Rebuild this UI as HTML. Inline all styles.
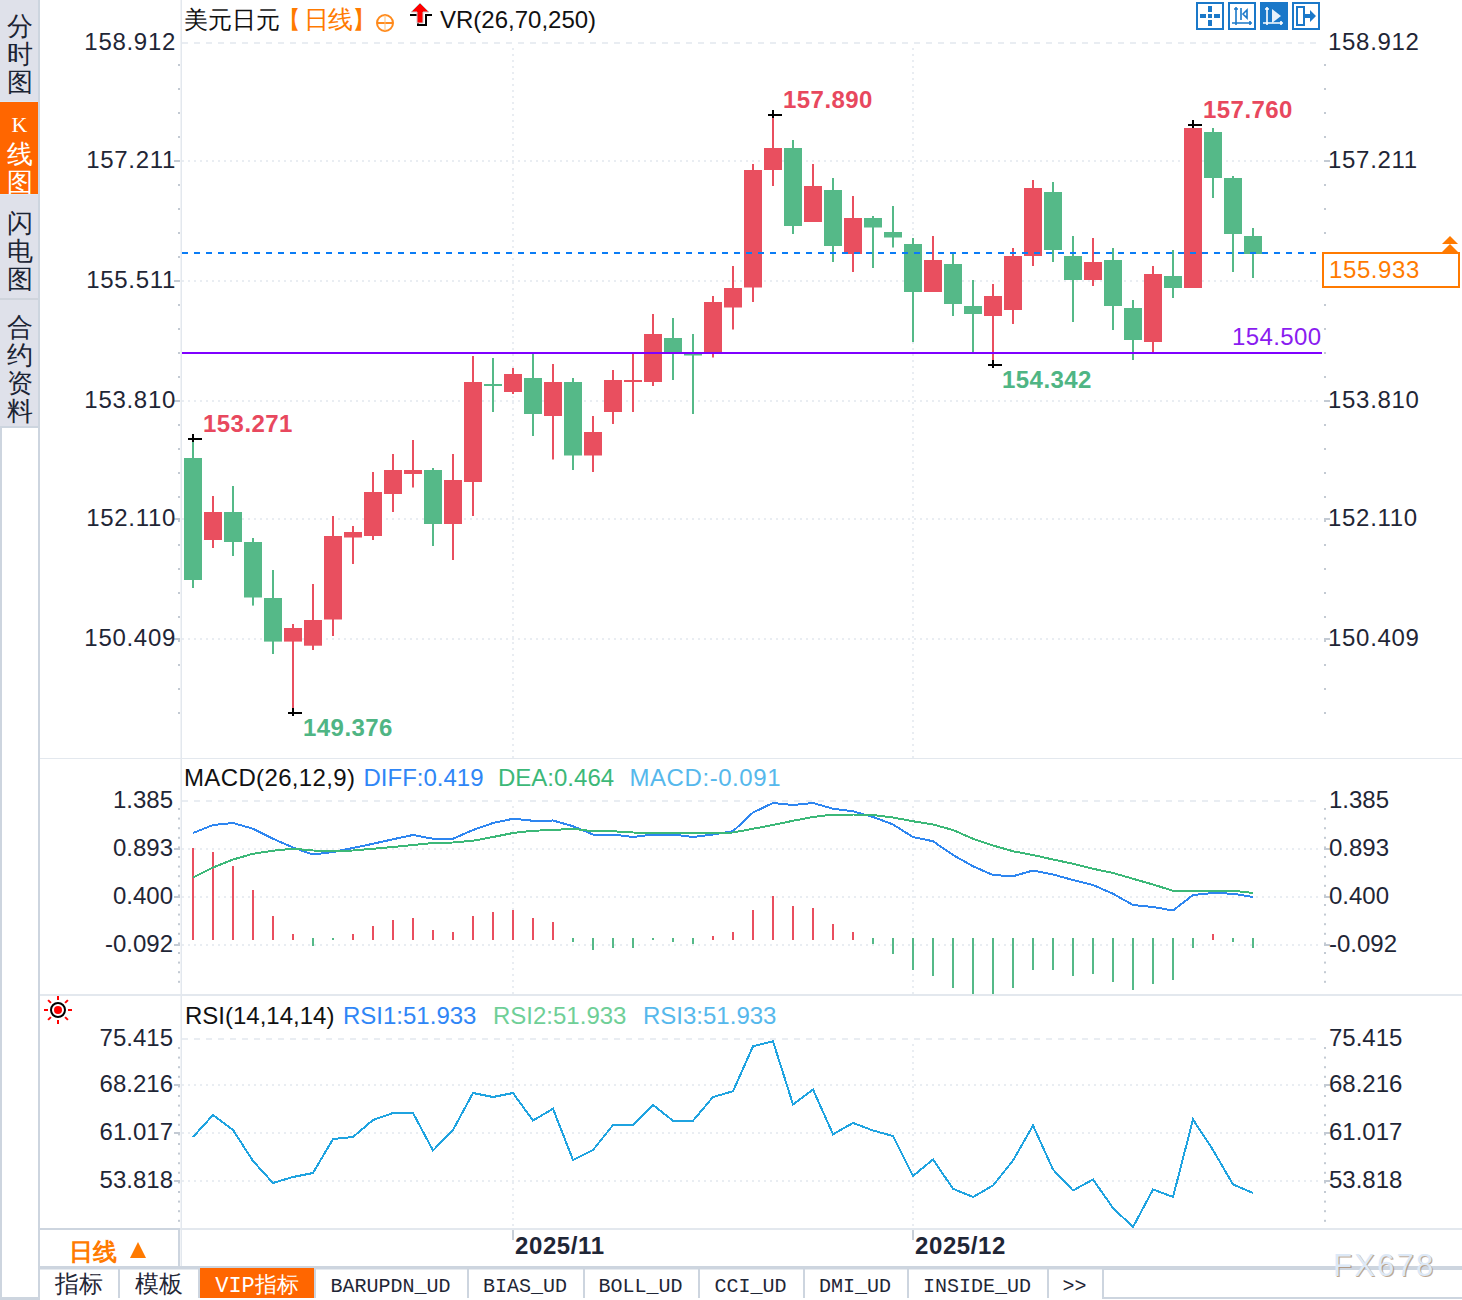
<!DOCTYPE html>
<html><head><meta charset="utf-8"><title>USDJPY</title>
<style>
html,body{margin:0;padding:0;background:#fff;width:1462px;height:1300px;overflow:hidden}
svg{display:block}
svg text{font-family:"Liberation Sans",sans-serif}
</style></head><body>
<svg width="1462" height="1300" viewBox="0 0 1462 1300">
<rect x="0" y="0" width="40" height="426" fill="#dfe1ea"/>
<rect x="0" y="102" width="38" height="92" fill="#ff6600"/>
<rect x="0" y="101" width="39" height="1" fill="#dde8f3"/>
<rect x="38" y="102" width="1" height="92" fill="#dde8f3"/>
<rect x="0" y="194" width="39" height="1" fill="#dde8f3"/>
<rect x="0" y="298" width="40" height="2" fill="#cfd4dc"/>
<rect x="0" y="426" width="40" height="874" fill="#cdd5df"/>
<rect x="2" y="428" width="36" height="869" fill="#ffffff"/>
<text x="19.5" y="35" font-size="26" fill="#1b2434" text-anchor="middle" font-weight="normal" style="font-family:'Liberation Sans',sans-serif">分</text>
<text x="19.5" y="63" font-size="26" fill="#1b2434" text-anchor="middle" font-weight="normal" style="font-family:'Liberation Sans',sans-serif">时</text>
<text x="19.5" y="91" font-size="26" fill="#1b2434" text-anchor="middle" font-weight="normal" style="font-family:'Liberation Sans',sans-serif">图</text>
<text x="19.5" y="163" font-size="26" fill="#ffffff" text-anchor="middle" font-weight="normal" style="font-family:'Liberation Sans',sans-serif">线</text>
<text x="19.5" y="191" font-size="26" fill="#ffffff" text-anchor="middle" font-weight="normal" style="font-family:'Liberation Sans',sans-serif">图</text>
<text x="19.5" y="132" font-size="22" fill="#ffffff" text-anchor="middle" style="font-family:'Liberation Serif',serif">K</text>
<text x="19.5" y="232" font-size="26" fill="#1b2434" text-anchor="middle" font-weight="normal" style="font-family:'Liberation Sans',sans-serif">闪</text>
<text x="19.5" y="260" font-size="26" fill="#1b2434" text-anchor="middle" font-weight="normal" style="font-family:'Liberation Sans',sans-serif">电</text>
<text x="19.5" y="288" font-size="26" fill="#1b2434" text-anchor="middle" font-weight="normal" style="font-family:'Liberation Sans',sans-serif">图</text>
<text x="19.5" y="336" font-size="26" fill="#1b2434" text-anchor="middle" font-weight="normal" style="font-family:'Liberation Sans',sans-serif">合</text>
<text x="19.5" y="364" font-size="26" fill="#1b2434" text-anchor="middle" font-weight="normal" style="font-family:'Liberation Sans',sans-serif">约</text>
<text x="19.5" y="392" font-size="26" fill="#1b2434" text-anchor="middle" font-weight="normal" style="font-family:'Liberation Sans',sans-serif">资</text>
<text x="19.5" y="420" font-size="26" fill="#1b2434" text-anchor="middle" font-weight="normal" style="font-family:'Liberation Sans',sans-serif">料</text>
<rect x="38" y="0" width="2" height="1300" fill="#cdd5df"/>
<rect x="40" y="758" width="1422" height="1" fill="#e3e8ee"/>
<rect x="40" y="994" width="1422" height="2" fill="#e3e8ee"/>
<rect x="180" y="1228" width="1282" height="2" fill="#e3e8ee"/>
<rect x="40" y="1228" width="140" height="2" fill="#cdd5df"/>
<rect x="180.5" y="0" width="1.5" height="1268" fill="#e3e8ee"/>
<line x1="182" y1="43" x2="1322" y2="43" stroke="#e9edf2" stroke-width="2" stroke-dasharray="6 6"/>
<line x1="182" y1="161" x2="1322" y2="161" stroke="#e9edf2" stroke-width="2" stroke-dasharray="2 4"/>
<line x1="182" y1="281" x2="1322" y2="281" stroke="#e9edf2" stroke-width="2" stroke-dasharray="2 4"/>
<line x1="182" y1="401" x2="1322" y2="401" stroke="#e9edf2" stroke-width="2" stroke-dasharray="2 4"/>
<line x1="182" y1="519" x2="1322" y2="519" stroke="#e9edf2" stroke-width="2" stroke-dasharray="2 4"/>
<line x1="182" y1="639" x2="1322" y2="639" stroke="#e9edf2" stroke-width="2" stroke-dasharray="2 4"/>
<line x1="513" y1="48" x2="513" y2="758" stroke="#e9edf2" stroke-width="2" stroke-dasharray="2 4"/>
<line x1="913" y1="48" x2="913" y2="758" stroke="#e9edf2" stroke-width="2" stroke-dasharray="2 4"/>
<rect x="178" y="64.0" width="2" height="2" fill="#c3cad3"/>
<rect x="1324" y="64.0" width="2" height="2" fill="#c3cad3"/>
<rect x="178" y="88.0" width="2" height="2" fill="#c3cad3"/>
<rect x="1324" y="88.0" width="2" height="2" fill="#c3cad3"/>
<rect x="178" y="112.0" width="2" height="2" fill="#c3cad3"/>
<rect x="1324" y="112.0" width="2" height="2" fill="#c3cad3"/>
<rect x="178" y="136.0" width="2" height="2" fill="#c3cad3"/>
<rect x="1324" y="136.0" width="2" height="2" fill="#c3cad3"/>
<rect x="178" y="160.0" width="2" height="2" fill="#c3cad3"/>
<rect x="1324" y="160.0" width="2" height="2" fill="#c3cad3"/>
<rect x="178" y="184.0" width="2" height="2" fill="#c3cad3"/>
<rect x="1324" y="184.0" width="2" height="2" fill="#c3cad3"/>
<rect x="178" y="208.0" width="2" height="2" fill="#c3cad3"/>
<rect x="1324" y="208.0" width="2" height="2" fill="#c3cad3"/>
<rect x="178" y="232.0" width="2" height="2" fill="#c3cad3"/>
<rect x="1324" y="232.0" width="2" height="2" fill="#c3cad3"/>
<rect x="178" y="256.0" width="2" height="2" fill="#c3cad3"/>
<rect x="1324" y="256.0" width="2" height="2" fill="#c3cad3"/>
<rect x="178" y="280.0" width="2" height="2" fill="#c3cad3"/>
<rect x="1324" y="280.0" width="2" height="2" fill="#c3cad3"/>
<rect x="178" y="304.0" width="2" height="2" fill="#c3cad3"/>
<rect x="1324" y="304.0" width="2" height="2" fill="#c3cad3"/>
<rect x="178" y="328.0" width="2" height="2" fill="#c3cad3"/>
<rect x="1324" y="328.0" width="2" height="2" fill="#c3cad3"/>
<rect x="178" y="352.0" width="2" height="2" fill="#c3cad3"/>
<rect x="1324" y="352.0" width="2" height="2" fill="#c3cad3"/>
<rect x="178" y="376.0" width="2" height="2" fill="#c3cad3"/>
<rect x="1324" y="376.0" width="2" height="2" fill="#c3cad3"/>
<rect x="178" y="400.0" width="2" height="2" fill="#c3cad3"/>
<rect x="1324" y="400.0" width="2" height="2" fill="#c3cad3"/>
<rect x="178" y="424.0" width="2" height="2" fill="#c3cad3"/>
<rect x="1324" y="424.0" width="2" height="2" fill="#c3cad3"/>
<rect x="178" y="448.0" width="2" height="2" fill="#c3cad3"/>
<rect x="1324" y="448.0" width="2" height="2" fill="#c3cad3"/>
<rect x="178" y="472.0" width="2" height="2" fill="#c3cad3"/>
<rect x="1324" y="472.0" width="2" height="2" fill="#c3cad3"/>
<rect x="178" y="496.0" width="2" height="2" fill="#c3cad3"/>
<rect x="1324" y="496.0" width="2" height="2" fill="#c3cad3"/>
<rect x="178" y="520.0" width="2" height="2" fill="#c3cad3"/>
<rect x="1324" y="520.0" width="2" height="2" fill="#c3cad3"/>
<rect x="178" y="544.0" width="2" height="2" fill="#c3cad3"/>
<rect x="1324" y="544.0" width="2" height="2" fill="#c3cad3"/>
<rect x="178" y="568.0" width="2" height="2" fill="#c3cad3"/>
<rect x="1324" y="568.0" width="2" height="2" fill="#c3cad3"/>
<rect x="178" y="592.0" width="2" height="2" fill="#c3cad3"/>
<rect x="1324" y="592.0" width="2" height="2" fill="#c3cad3"/>
<rect x="178" y="616.0" width="2" height="2" fill="#c3cad3"/>
<rect x="1324" y="616.0" width="2" height="2" fill="#c3cad3"/>
<rect x="178" y="640.0" width="2" height="2" fill="#c3cad3"/>
<rect x="1324" y="640.0" width="2" height="2" fill="#c3cad3"/>
<rect x="178" y="664.0" width="2" height="2" fill="#c3cad3"/>
<rect x="1324" y="664.0" width="2" height="2" fill="#c3cad3"/>
<rect x="178" y="688.0" width="2" height="2" fill="#c3cad3"/>
<rect x="1324" y="688.0" width="2" height="2" fill="#c3cad3"/>
<rect x="178" y="712.0" width="2" height="2" fill="#c3cad3"/>
<rect x="1324" y="712.0" width="2" height="2" fill="#c3cad3"/>
<rect x="174" y="160.0" width="6" height="2" fill="#c3cad3"/>
<rect x="1324" y="160.0" width="6" height="2" fill="#c3cad3"/>
<rect x="174" y="280.0" width="6" height="2" fill="#c3cad3"/>
<rect x="1324" y="280.0" width="6" height="2" fill="#c3cad3"/>
<rect x="174" y="400.0" width="6" height="2" fill="#c3cad3"/>
<rect x="1324" y="400.0" width="6" height="2" fill="#c3cad3"/>
<rect x="174" y="518.0" width="6" height="2" fill="#c3cad3"/>
<rect x="1324" y="518.0" width="6" height="2" fill="#c3cad3"/>
<rect x="174" y="638.0" width="6" height="2" fill="#c3cad3"/>
<rect x="1324" y="638.0" width="6" height="2" fill="#c3cad3"/>
<text x="176" y="50" font-size="24" fill="#1f2636" text-anchor="end" letter-spacing="0.7">158.912</text>
<text x="1328" y="50" font-size="24" fill="#1f2636" letter-spacing="0.7">158.912</text>
<text x="176" y="168" font-size="24" fill="#1f2636" text-anchor="end" letter-spacing="0.7">157.211</text>
<text x="1328" y="168" font-size="24" fill="#1f2636" letter-spacing="0.7">157.211</text>
<text x="176" y="288" font-size="24" fill="#1f2636" text-anchor="end" letter-spacing="0.7">155.511</text>
<text x="1328" y="288" font-size="24" fill="#1f2636" letter-spacing="0.7">155.511</text>
<text x="176" y="408" font-size="24" fill="#1f2636" text-anchor="end" letter-spacing="0.7">153.810</text>
<text x="1328" y="408" font-size="24" fill="#1f2636" letter-spacing="0.7">153.810</text>
<text x="176" y="526" font-size="24" fill="#1f2636" text-anchor="end" letter-spacing="0.7">152.110</text>
<text x="1328" y="526" font-size="24" fill="#1f2636" letter-spacing="0.7">152.110</text>
<text x="176" y="646" font-size="24" fill="#1f2636" text-anchor="end" letter-spacing="0.7">150.409</text>
<text x="1328" y="646" font-size="24" fill="#1f2636" letter-spacing="0.7">150.409</text>
<line x1="182" y1="801" x2="1322" y2="801" stroke="#e9edf2" stroke-width="2" stroke-dasharray="6 6"/>
<line x1="182" y1="849" x2="1322" y2="849" stroke="#e9edf2" stroke-width="2" stroke-dasharray="2 4"/>
<line x1="182" y1="897" x2="1322" y2="897" stroke="#e9edf2" stroke-width="2" stroke-dasharray="2 4"/>
<line x1="182" y1="945" x2="1322" y2="945" stroke="#e9edf2" stroke-width="2" stroke-dasharray="2 4"/>
<line x1="513" y1="806" x2="513" y2="994" stroke="#e9edf2" stroke-width="2" stroke-dasharray="2 4"/>
<line x1="913" y1="806" x2="913" y2="994" stroke="#e9edf2" stroke-width="2" stroke-dasharray="2 4"/>
<rect x="178" y="808.0" width="2" height="2" fill="#c3cad3"/>
<rect x="1324" y="808.0" width="2" height="2" fill="#c3cad3"/>
<rect x="178" y="817.6" width="2" height="2" fill="#c3cad3"/>
<rect x="1324" y="817.6" width="2" height="2" fill="#c3cad3"/>
<rect x="178" y="827.2" width="2" height="2" fill="#c3cad3"/>
<rect x="1324" y="827.2" width="2" height="2" fill="#c3cad3"/>
<rect x="178" y="836.8" width="2" height="2" fill="#c3cad3"/>
<rect x="1324" y="836.8" width="2" height="2" fill="#c3cad3"/>
<rect x="178" y="846.4" width="2" height="2" fill="#c3cad3"/>
<rect x="1324" y="846.4" width="2" height="2" fill="#c3cad3"/>
<rect x="178" y="856.0" width="2" height="2" fill="#c3cad3"/>
<rect x="1324" y="856.0" width="2" height="2" fill="#c3cad3"/>
<rect x="178" y="865.6" width="2" height="2" fill="#c3cad3"/>
<rect x="1324" y="865.6" width="2" height="2" fill="#c3cad3"/>
<rect x="178" y="875.2" width="2" height="2" fill="#c3cad3"/>
<rect x="1324" y="875.2" width="2" height="2" fill="#c3cad3"/>
<rect x="178" y="884.8" width="2" height="2" fill="#c3cad3"/>
<rect x="1324" y="884.8" width="2" height="2" fill="#c3cad3"/>
<rect x="178" y="894.4" width="2" height="2" fill="#c3cad3"/>
<rect x="1324" y="894.4" width="2" height="2" fill="#c3cad3"/>
<rect x="178" y="904.0" width="2" height="2" fill="#c3cad3"/>
<rect x="1324" y="904.0" width="2" height="2" fill="#c3cad3"/>
<rect x="178" y="913.6" width="2" height="2" fill="#c3cad3"/>
<rect x="1324" y="913.6" width="2" height="2" fill="#c3cad3"/>
<rect x="178" y="923.2" width="2" height="2" fill="#c3cad3"/>
<rect x="1324" y="923.2" width="2" height="2" fill="#c3cad3"/>
<rect x="178" y="932.8" width="2" height="2" fill="#c3cad3"/>
<rect x="1324" y="932.8" width="2" height="2" fill="#c3cad3"/>
<rect x="178" y="942.4" width="2" height="2" fill="#c3cad3"/>
<rect x="1324" y="942.4" width="2" height="2" fill="#c3cad3"/>
<rect x="178" y="952.0" width="2" height="2" fill="#c3cad3"/>
<rect x="1324" y="952.0" width="2" height="2" fill="#c3cad3"/>
<rect x="178" y="961.6" width="2" height="2" fill="#c3cad3"/>
<rect x="1324" y="961.6" width="2" height="2" fill="#c3cad3"/>
<rect x="178" y="971.2" width="2" height="2" fill="#c3cad3"/>
<rect x="1324" y="971.2" width="2" height="2" fill="#c3cad3"/>
<rect x="178" y="980.8" width="2" height="2" fill="#c3cad3"/>
<rect x="1324" y="980.8" width="2" height="2" fill="#c3cad3"/>
<rect x="174" y="848.0" width="6" height="2" fill="#c3cad3"/>
<rect x="1324" y="848.0" width="6" height="2" fill="#c3cad3"/>
<rect x="174" y="896.0" width="6" height="2" fill="#c3cad3"/>
<rect x="1324" y="896.0" width="6" height="2" fill="#c3cad3"/>
<rect x="174" y="944.0" width="6" height="2" fill="#c3cad3"/>
<rect x="1324" y="944.0" width="6" height="2" fill="#c3cad3"/>
<text x="173" y="808" font-size="24" fill="#1f2636" text-anchor="end">1.385</text>
<text x="1329" y="808" font-size="24" fill="#1f2636">1.385</text>
<text x="173" y="856" font-size="24" fill="#1f2636" text-anchor="end">0.893</text>
<text x="1329" y="856" font-size="24" fill="#1f2636">0.893</text>
<text x="173" y="904" font-size="24" fill="#1f2636" text-anchor="end">0.400</text>
<text x="1329" y="904" font-size="24" fill="#1f2636">0.400</text>
<text x="173" y="952" font-size="24" fill="#1f2636" text-anchor="end">-0.092</text>
<text x="1329" y="952" font-size="24" fill="#1f2636">-0.092</text>
<line x1="182" y1="1039" x2="1322" y2="1039" stroke="#e9edf2" stroke-width="2" stroke-dasharray="6 6"/>
<line x1="182" y1="1085" x2="1322" y2="1085" stroke="#e9edf2" stroke-width="2" stroke-dasharray="2 4"/>
<line x1="182" y1="1133" x2="1322" y2="1133" stroke="#e9edf2" stroke-width="2" stroke-dasharray="2 4"/>
<line x1="182" y1="1181" x2="1322" y2="1181" stroke="#e9edf2" stroke-width="2" stroke-dasharray="2 4"/>
<line x1="513" y1="1044" x2="513" y2="1228" stroke="#e9edf2" stroke-width="2" stroke-dasharray="2 4"/>
<line x1="913" y1="1044" x2="913" y2="1228" stroke="#e9edf2" stroke-width="2" stroke-dasharray="2 4"/>
<rect x="178" y="1047.0" width="2" height="2" fill="#c3cad3"/>
<rect x="1324" y="1047.0" width="2" height="2" fill="#c3cad3"/>
<rect x="178" y="1056.6" width="2" height="2" fill="#c3cad3"/>
<rect x="1324" y="1056.6" width="2" height="2" fill="#c3cad3"/>
<rect x="178" y="1066.2" width="2" height="2" fill="#c3cad3"/>
<rect x="1324" y="1066.2" width="2" height="2" fill="#c3cad3"/>
<rect x="178" y="1075.8" width="2" height="2" fill="#c3cad3"/>
<rect x="1324" y="1075.8" width="2" height="2" fill="#c3cad3"/>
<rect x="178" y="1085.4" width="2" height="2" fill="#c3cad3"/>
<rect x="1324" y="1085.4" width="2" height="2" fill="#c3cad3"/>
<rect x="178" y="1095.0" width="2" height="2" fill="#c3cad3"/>
<rect x="1324" y="1095.0" width="2" height="2" fill="#c3cad3"/>
<rect x="178" y="1104.6" width="2" height="2" fill="#c3cad3"/>
<rect x="1324" y="1104.6" width="2" height="2" fill="#c3cad3"/>
<rect x="178" y="1114.2" width="2" height="2" fill="#c3cad3"/>
<rect x="1324" y="1114.2" width="2" height="2" fill="#c3cad3"/>
<rect x="178" y="1123.8" width="2" height="2" fill="#c3cad3"/>
<rect x="1324" y="1123.8" width="2" height="2" fill="#c3cad3"/>
<rect x="178" y="1133.4" width="2" height="2" fill="#c3cad3"/>
<rect x="1324" y="1133.4" width="2" height="2" fill="#c3cad3"/>
<rect x="178" y="1143.0" width="2" height="2" fill="#c3cad3"/>
<rect x="1324" y="1143.0" width="2" height="2" fill="#c3cad3"/>
<rect x="178" y="1152.6" width="2" height="2" fill="#c3cad3"/>
<rect x="1324" y="1152.6" width="2" height="2" fill="#c3cad3"/>
<rect x="178" y="1162.2" width="2" height="2" fill="#c3cad3"/>
<rect x="1324" y="1162.2" width="2" height="2" fill="#c3cad3"/>
<rect x="178" y="1171.8" width="2" height="2" fill="#c3cad3"/>
<rect x="1324" y="1171.8" width="2" height="2" fill="#c3cad3"/>
<rect x="178" y="1181.4" width="2" height="2" fill="#c3cad3"/>
<rect x="1324" y="1181.4" width="2" height="2" fill="#c3cad3"/>
<rect x="178" y="1191.0" width="2" height="2" fill="#c3cad3"/>
<rect x="1324" y="1191.0" width="2" height="2" fill="#c3cad3"/>
<rect x="178" y="1200.6" width="2" height="2" fill="#c3cad3"/>
<rect x="1324" y="1200.6" width="2" height="2" fill="#c3cad3"/>
<rect x="178" y="1210.2" width="2" height="2" fill="#c3cad3"/>
<rect x="1324" y="1210.2" width="2" height="2" fill="#c3cad3"/>
<rect x="178" y="1219.8" width="2" height="2" fill="#c3cad3"/>
<rect x="1324" y="1219.8" width="2" height="2" fill="#c3cad3"/>
<rect x="174" y="1084.0" width="6" height="2" fill="#c3cad3"/>
<rect x="1324" y="1084.0" width="6" height="2" fill="#c3cad3"/>
<rect x="174" y="1132.0" width="6" height="2" fill="#c3cad3"/>
<rect x="1324" y="1132.0" width="6" height="2" fill="#c3cad3"/>
<rect x="174" y="1180.0" width="6" height="2" fill="#c3cad3"/>
<rect x="1324" y="1180.0" width="6" height="2" fill="#c3cad3"/>
<text x="173" y="1046" font-size="24" fill="#1f2636" text-anchor="end">75.415</text>
<text x="1329" y="1046" font-size="24" fill="#1f2636">75.415</text>
<text x="173" y="1092" font-size="24" fill="#1f2636" text-anchor="end">68.216</text>
<text x="1329" y="1092" font-size="24" fill="#1f2636">68.216</text>
<text x="173" y="1140" font-size="24" fill="#1f2636" text-anchor="end">61.017</text>
<text x="1329" y="1140" font-size="24" fill="#1f2636">61.017</text>
<text x="173" y="1188" font-size="24" fill="#1f2636" text-anchor="end">53.818</text>
<text x="1329" y="1188" font-size="24" fill="#1f2636">53.818</text>
<rect x="192" y="439" width="2" height="149" fill="#55b988"/>
<rect x="184" y="458" width="18" height="122" fill="#55b988"/>
<rect x="212" y="496" width="2" height="52" fill="#e94f5f"/>
<rect x="204" y="512" width="18" height="28" fill="#e94f5f"/>
<rect x="232" y="486" width="2" height="70" fill="#55b988"/>
<rect x="224" y="512" width="18" height="30" fill="#55b988"/>
<rect x="252" y="538" width="2" height="67.60000000000002" fill="#55b988"/>
<rect x="244" y="542" width="18" height="55.5" fill="#55b988"/>
<rect x="272" y="570" width="2" height="84" fill="#55b988"/>
<rect x="264" y="598" width="18" height="43.60000000000002" fill="#55b988"/>
<rect x="292" y="624" width="2" height="88.70000000000005" fill="#e94f5f"/>
<rect x="284" y="628" width="18" height="13.600000000000023" fill="#e94f5f"/>
<rect x="312" y="584" width="2" height="66" fill="#e94f5f"/>
<rect x="304" y="620" width="18" height="25.700000000000045" fill="#e94f5f"/>
<rect x="332" y="516" width="2" height="120" fill="#e94f5f"/>
<rect x="324" y="536" width="18" height="83.5" fill="#e94f5f"/>
<rect x="352" y="526" width="2" height="38" fill="#e94f5f"/>
<rect x="344" y="532" width="18" height="5.5" fill="#e94f5f"/>
<rect x="372" y="472" width="2" height="68" fill="#e94f5f"/>
<rect x="364" y="492" width="18" height="44" fill="#e94f5f"/>
<rect x="392" y="454" width="2" height="58" fill="#e94f5f"/>
<rect x="384" y="470" width="18" height="24" fill="#e94f5f"/>
<rect x="412" y="440" width="2" height="47.5" fill="#e94f5f"/>
<rect x="404" y="470" width="18" height="4" fill="#e94f5f"/>
<rect x="432" y="468" width="2" height="78" fill="#55b988"/>
<rect x="424" y="470" width="18" height="54" fill="#55b988"/>
<rect x="452" y="454" width="2" height="106" fill="#e94f5f"/>
<rect x="444" y="480" width="18" height="44" fill="#e94f5f"/>
<rect x="472" y="356" width="2" height="160" fill="#e94f5f"/>
<rect x="464" y="382" width="18" height="100" fill="#e94f5f"/>
<rect x="492" y="358" width="2" height="54" fill="#55b988"/>
<rect x="484" y="384" width="18" height="2" fill="#55b988"/>
<rect x="512" y="368" width="2" height="26" fill="#e94f5f"/>
<rect x="504" y="374" width="18" height="18" fill="#e94f5f"/>
<rect x="532" y="354" width="2" height="82" fill="#55b988"/>
<rect x="524" y="378" width="18" height="36" fill="#55b988"/>
<rect x="552" y="364" width="2" height="95.5" fill="#e94f5f"/>
<rect x="544" y="382" width="18" height="34" fill="#e94f5f"/>
<rect x="572" y="378" width="2" height="92" fill="#55b988"/>
<rect x="564" y="382" width="18" height="73.5" fill="#55b988"/>
<rect x="592" y="416" width="2" height="56" fill="#e94f5f"/>
<rect x="584" y="432" width="18" height="23.5" fill="#e94f5f"/>
<rect x="612" y="370" width="2" height="54" fill="#e94f5f"/>
<rect x="604" y="380" width="18" height="32" fill="#e94f5f"/>
<rect x="632" y="354" width="2" height="58" fill="#e94f5f"/>
<rect x="624" y="380" width="18" height="2" fill="#e94f5f"/>
<rect x="652" y="314" width="2" height="72" fill="#e94f5f"/>
<rect x="644" y="334" width="18" height="48" fill="#e94f5f"/>
<rect x="672" y="318" width="2" height="62" fill="#55b988"/>
<rect x="664" y="338" width="18" height="14" fill="#55b988"/>
<rect x="692" y="334" width="2" height="80" fill="#55b988"/>
<rect x="684" y="353" width="18" height="2.5" fill="#55b988"/>
<rect x="712" y="296" width="2" height="61.5" fill="#e94f5f"/>
<rect x="704" y="302" width="18" height="50.5" fill="#e94f5f"/>
<rect x="732" y="266" width="2" height="63.5" fill="#e94f5f"/>
<rect x="724" y="288" width="18" height="19.5" fill="#e94f5f"/>
<rect x="752" y="164" width="2" height="138" fill="#e94f5f"/>
<rect x="744" y="170" width="18" height="117.5" fill="#e94f5f"/>
<rect x="772" y="115" width="2" height="71" fill="#e94f5f"/>
<rect x="764" y="148" width="18" height="22" fill="#e94f5f"/>
<rect x="792" y="140" width="2" height="94" fill="#55b988"/>
<rect x="784" y="148" width="18" height="78" fill="#55b988"/>
<rect x="812" y="164" width="2" height="58" fill="#e94f5f"/>
<rect x="804" y="186" width="18" height="36" fill="#e94f5f"/>
<rect x="832" y="178" width="2" height="84" fill="#55b988"/>
<rect x="824" y="190" width="18" height="56" fill="#55b988"/>
<rect x="852" y="196" width="2" height="76" fill="#e94f5f"/>
<rect x="844" y="218" width="18" height="36" fill="#e94f5f"/>
<rect x="872" y="216" width="2" height="52" fill="#55b988"/>
<rect x="864" y="218" width="18" height="9.5" fill="#55b988"/>
<rect x="892" y="206" width="2" height="41.5" fill="#55b988"/>
<rect x="884" y="232" width="18" height="5.5" fill="#55b988"/>
<rect x="912" y="238" width="2" height="104" fill="#55b988"/>
<rect x="904" y="244" width="18" height="48" fill="#55b988"/>
<rect x="932" y="236" width="2" height="56" fill="#e94f5f"/>
<rect x="924" y="260" width="18" height="32" fill="#e94f5f"/>
<rect x="952" y="254" width="2" height="62" fill="#55b988"/>
<rect x="944" y="264" width="18" height="40" fill="#55b988"/>
<rect x="972" y="280" width="2" height="72.5" fill="#55b988"/>
<rect x="964" y="306" width="18" height="8" fill="#55b988"/>
<rect x="992" y="284" width="2" height="81" fill="#e94f5f"/>
<rect x="984" y="296" width="18" height="20" fill="#e94f5f"/>
<rect x="1012" y="248" width="2" height="76" fill="#e94f5f"/>
<rect x="1004" y="256" width="18" height="54" fill="#e94f5f"/>
<rect x="1032" y="180" width="2" height="86" fill="#e94f5f"/>
<rect x="1024" y="188" width="18" height="68" fill="#e94f5f"/>
<rect x="1052" y="182" width="2" height="80" fill="#55b988"/>
<rect x="1044" y="192" width="18" height="58" fill="#55b988"/>
<rect x="1072" y="236" width="2" height="86" fill="#55b988"/>
<rect x="1064" y="256" width="18" height="24" fill="#55b988"/>
<rect x="1092" y="238" width="2" height="48" fill="#e94f5f"/>
<rect x="1084" y="262" width="18" height="18" fill="#e94f5f"/>
<rect x="1112" y="248" width="2" height="82" fill="#55b988"/>
<rect x="1104" y="260" width="18" height="46" fill="#55b988"/>
<rect x="1132" y="300" width="2" height="60" fill="#55b988"/>
<rect x="1124" y="308" width="18" height="32" fill="#55b988"/>
<rect x="1152" y="266" width="2" height="86" fill="#e94f5f"/>
<rect x="1144" y="274" width="18" height="68" fill="#e94f5f"/>
<rect x="1172" y="250" width="2" height="48" fill="#55b988"/>
<rect x="1164" y="276" width="18" height="12" fill="#55b988"/>
<rect x="1192" y="125" width="2" height="163" fill="#e94f5f"/>
<rect x="1184" y="128" width="18" height="160" fill="#e94f5f"/>
<rect x="1212" y="128" width="2" height="70" fill="#55b988"/>
<rect x="1204" y="132" width="18" height="46" fill="#55b988"/>
<rect x="1232" y="176" width="2" height="96" fill="#55b988"/>
<rect x="1224" y="178" width="18" height="56" fill="#55b988"/>
<rect x="1252" y="228" width="2" height="50" fill="#55b988"/>
<rect x="1244" y="236" width="18" height="18" fill="#55b988"/>
<rect x="182" y="352" width="1140" height="2" fill="#7f00ff"/>
<text x="1321.5" y="345" font-size="24" fill="#8a1cf0" text-anchor="end" letter-spacing="0.4">154.500</text>
<line x1="182" y1="253" x2="1318" y2="253" stroke="#0a7cf5" stroke-width="2" stroke-dasharray="6 6"/>
<rect x="188" y="438" width="14" height="2" fill="#000"/>
<rect x="192" y="434" width="2" height="8" fill="#000"/>
<rect x="768" y="114" width="14" height="2" fill="#000"/>
<rect x="772" y="110" width="2" height="8" fill="#000"/>
<rect x="1188" y="124" width="14" height="2" fill="#000"/>
<rect x="1192" y="120" width="2" height="8" fill="#000"/>
<rect x="288" y="712" width="14" height="2" fill="#000"/>
<rect x="292" y="708" width="2" height="8" fill="#000"/>
<rect x="988" y="364" width="14" height="2" fill="#000"/>
<rect x="992" y="360" width="2" height="8" fill="#000"/>
<text x="203" y="432" font-size="24" font-weight="bold" fill="#e8485e" letter-spacing="0.45">153.271</text>
<text x="783" y="107.5" font-size="24" font-weight="bold" fill="#e8485e" letter-spacing="0.45">157.890</text>
<text x="1203" y="118" font-size="24" font-weight="bold" fill="#e8485e" letter-spacing="0.45">157.760</text>
<text x="303" y="736" font-size="24" font-weight="bold" fill="#4fb584" letter-spacing="0.45">149.376</text>
<text x="1002" y="388" font-size="24" font-weight="bold" fill="#4fb584" letter-spacing="0.45">154.342</text>
<rect x="1323" y="253" width="136" height="34" fill="#fff" stroke="#ff7a00" stroke-width="2"/>
<text x="1329" y="278" font-size="24" fill="#ff7a00" letter-spacing="0.6">155.933</text>
<path d="M1450 236 L1458 244 L1442 244 Z M1450 244 L1458 252 L1442 252 Z" fill="#ff7a00"/>
<rect x="192" y="848" width="2" height="92" fill="#e94f5f"/>
<rect x="212" y="852" width="2" height="88" fill="#e94f5f"/>
<rect x="232" y="866" width="2" height="74" fill="#e94f5f"/>
<rect x="252" y="890" width="2" height="50" fill="#e94f5f"/>
<rect x="272" y="916" width="2" height="24" fill="#e94f5f"/>
<rect x="292" y="934" width="2" height="6" fill="#e94f5f"/>
<rect x="312" y="938" width="2" height="8" fill="#55b988"/>
<rect x="332" y="938" width="2" height="2" fill="#55b988"/>
<rect x="352" y="934" width="2" height="6" fill="#e94f5f"/>
<rect x="372" y="926" width="2" height="14" fill="#e94f5f"/>
<rect x="392" y="920" width="2" height="20" fill="#e94f5f"/>
<rect x="412" y="918" width="2" height="22" fill="#e94f5f"/>
<rect x="432" y="930" width="2" height="10" fill="#e94f5f"/>
<rect x="452" y="932" width="2" height="8" fill="#e94f5f"/>
<rect x="472" y="916" width="2" height="24" fill="#e94f5f"/>
<rect x="492" y="912" width="2" height="28" fill="#e94f5f"/>
<rect x="512" y="910" width="2" height="30" fill="#e94f5f"/>
<rect x="532" y="918" width="2" height="22" fill="#e94f5f"/>
<rect x="552" y="922" width="2" height="18" fill="#e94f5f"/>
<rect x="572" y="938" width="2" height="4" fill="#55b988"/>
<rect x="592" y="938" width="2" height="12" fill="#55b988"/>
<rect x="612" y="938" width="2" height="10" fill="#55b988"/>
<rect x="632" y="938" width="2" height="10" fill="#55b988"/>
<rect x="652" y="938" width="2" height="2" fill="#55b988"/>
<rect x="672" y="938" width="2" height="4" fill="#55b988"/>
<rect x="692" y="938" width="2" height="6" fill="#55b988"/>
<rect x="712" y="936" width="2" height="4" fill="#e94f5f"/>
<rect x="732" y="932" width="2" height="8" fill="#e94f5f"/>
<rect x="752" y="910" width="2" height="30" fill="#e94f5f"/>
<rect x="772" y="896" width="2" height="44" fill="#e94f5f"/>
<rect x="792" y="906" width="2" height="34" fill="#e94f5f"/>
<rect x="812" y="908" width="2" height="32" fill="#e94f5f"/>
<rect x="832" y="924" width="2" height="16" fill="#e94f5f"/>
<rect x="852" y="932" width="2" height="8" fill="#e94f5f"/>
<rect x="872" y="938" width="2" height="6" fill="#55b988"/>
<rect x="892" y="938" width="2" height="16" fill="#55b988"/>
<rect x="912" y="938" width="2" height="32" fill="#55b988"/>
<rect x="932" y="938" width="2" height="38" fill="#55b988"/>
<rect x="952" y="938" width="2" height="50" fill="#55b988"/>
<rect x="972" y="938" width="2" height="56" fill="#55b988"/>
<rect x="992" y="938" width="2" height="56" fill="#55b988"/>
<rect x="1012" y="938" width="2" height="50" fill="#55b988"/>
<rect x="1032" y="938" width="2" height="32" fill="#55b988"/>
<rect x="1052" y="938" width="2" height="32" fill="#55b988"/>
<rect x="1072" y="938" width="2" height="38" fill="#55b988"/>
<rect x="1092" y="938" width="2" height="36" fill="#55b988"/>
<rect x="1112" y="938" width="2" height="44" fill="#55b988"/>
<rect x="1132" y="938" width="2" height="52" fill="#55b988"/>
<rect x="1152" y="938" width="2" height="46" fill="#55b988"/>
<rect x="1172" y="938" width="2" height="42" fill="#55b988"/>
<rect x="1192" y="938" width="2" height="10" fill="#55b988"/>
<rect x="1212" y="934" width="2" height="6" fill="#e94f5f"/>
<rect x="1232" y="938" width="2" height="4" fill="#55b988"/>
<rect x="1252" y="938" width="2" height="10" fill="#55b988"/>
<polyline points="193,833 213,825 233,823 253,828.75 273,838.75 293,847.5 313,854.5 333,852 353,848 373,843.75 393,839.25 413,835 433,838.75 453,838.75 473,830 493,823 513,818.75 533,820.75 553,820.5 573,826.25 593,834.5 613,834.5 633,837 653,834.5 673,834.5 693,837 713,834.5 733,831.25 753,812.5 773,803 793,805 813,803 833,808.75 853,811.25 873,817 893,824.5 913,837 933,841.25 953,855 973,866.25 993,875 1013,876.25 1033,870.5 1053,874.5 1073,880 1093,885 1113,893.75 1133,905 1153,907 1173,910.5 1193,895 1213,893 1233,893.75 1253,897" fill="none" stroke="#2e86f0" stroke-width="2" shape-rendering="crispEdges"/>
<polyline points="193,877.5 213,867.5 233,859.5 253,853.75 273,850.75 293,848.75 313,850.5 333,850.75 353,850.5 373,848.75 393,847 413,845 433,843 453,842.5 473,840.75 493,837 513,833 533,830.75 553,830 573,828.75 593,831.25 613,831.25 633,832.5 653,833 673,833 693,833 713,833 733,832.5 753,828.75 773,825 793,820.75 813,817 833,814.5 853,814.5 873,815 893,817.5 913,821.25 933,824.5 953,830 973,838.75 993,845.5 1013,851.25 1033,855 1053,859.5 1073,863.75 1093,868.75 1113,873 1133,878.75 1153,884.5 1173,890.75 1193,890.75 1213,890.75 1233,890.75 1253,893" fill="none" stroke="#3cb878" stroke-width="2" shape-rendering="crispEdges"/>
<polyline points="193,1137 213,1115 233,1130 253,1161 273,1183 293,1177 313,1173 333,1139 353,1137 373,1120 393,1113 413,1113 433,1150.5 453,1130 473,1093 493,1097 513,1093 533,1120.5 553,1108.75 573,1160 593,1150 613,1125 633,1125 653,1105 673,1120.75 693,1120.75 713,1097 733,1091.25 753,1046.25 773,1041.25 793,1104.5 813,1089.5 833,1134.25 853,1123 873,1130.5 893,1136 913,1176 933,1159.5 953,1188.75 973,1197 993,1185.5 1013,1160.5 1033,1125.5 1053,1169.5 1073,1190.5 1093,1179.5 1113,1208 1133,1227 1153,1189.5 1173,1197 1193,1119.5 1213,1150 1233,1184.5 1253,1193" fill="none" stroke="#1fa3e0" stroke-width="2" shape-rendering="crispEdges"/>
<text x="184" y="28" font-size="24" fill="#111">美元日元</text>
<text x="277" y="28" font-size="24" fill="#ff7a00">【</text>
<text x="304" y="28" font-size="25" fill="#ff7a00">日</text>
<text x="328" y="28" font-size="25" fill="#ff7a00">线</text>
<text x="352" y="28" font-size="24" fill="#ff7a00">】</text>
<circle cx="385" cy="23" r="8" fill="none" stroke="#ff8a1c" stroke-width="2"/>
<rect x="377" y="22" width="16" height="2" fill="#ff8a1c"/>
<rect x="384.5" y="15" width="1" height="16" fill="#ffc27a"/>
<path d="M410 15 L418 15 L418 25 L426 25 L426 15 L432 15" fill="none" stroke="#000" stroke-width="2"/>
<path d="M420 3 L429 12 L423 12 L423 23 L417 23 L417 12 L411 12 Z" fill="#f00" stroke="#c8c8c8" stroke-width="1"/>
<text x="440" y="28" font-size="24" fill="#111">VR(26,70,250)</text>
<text x="184" y="786" font-size="24" fill="#111" textLength="171" lengthAdjust="spacing">MACD(26,12,9)</text>
<text x="363.5" y="786" font-size="24" fill="#2f86f6">DIFF:0.419</text>
<text x="498" y="786" font-size="24" fill="#3cb878">DEA:0.464</text>
<text x="629.5" y="786" font-size="24" fill="#56b8ec" textLength="151" lengthAdjust="spacing">MACD:-0.091</text>
<text x="185" y="1024" font-size="24" fill="#111">RSI(14,14,14)</text>
<text x="343" y="1024" font-size="24" fill="#2f86f6">RSI1:51.933</text>
<text x="493" y="1024" font-size="24" fill="#6fcf97">RSI2:51.933</text>
<text x="643" y="1024" font-size="24" fill="#56b8ec">RSI3:51.933</text>
<g transform="translate(58,1010)"><circle r="7" fill="none" stroke="#000" stroke-width="2"/><circle r="4" fill="#f00"/><line x1="10.0" y1="0.0" x2="14.0" y2="0.0" stroke="#f00" stroke-width="2"/><line x1="7.1" y1="7.1" x2="9.9" y2="9.9" stroke="#f00" stroke-width="2"/><line x1="0.0" y1="10.0" x2="0.0" y2="14.0" stroke="#f00" stroke-width="2"/><line x1="-7.1" y1="7.1" x2="-9.9" y2="9.9" stroke="#f00" stroke-width="2"/><line x1="-10.0" y1="0.0" x2="-14.0" y2="0.0" stroke="#f00" stroke-width="2"/><line x1="-7.1" y1="-7.1" x2="-9.9" y2="-9.9" stroke="#f00" stroke-width="2"/><line x1="-0.0" y1="-10.0" x2="-0.0" y2="-14.0" stroke="#f00" stroke-width="2"/><line x1="7.1" y1="-7.1" x2="9.9" y2="-9.9" stroke="#f00" stroke-width="2"/></g>
<rect x="1197" y="3" width="26" height="26" fill="#fff" stroke="#1a78c9" stroke-width="2"/>
<path d="M1208 6h4v6h-4zM1208 14h4v4h-4zM1208 20h4v6h-4zM1200 14h6v4h-6zM1214 14h6v4h-6z" fill="#1a78c9"/>
<rect x="1229" y="3" width="26" height="26" fill="#fff" stroke="#1a78c9" stroke-width="2"/>
<path d="M1234 9h4M1236 7v18M1232 23h20M1250 21v4M1241 8v12M1243 14l4-4v8z" fill="none" stroke="#1a78c9" stroke-width="1.6"/>
<rect x="1260" y="2" width="28" height="28" fill="#1a78c9"/>
<path d="M1265 9h4M1267 7v18M1263 23h20M1281 21v4" fill="none" stroke="#fff" stroke-width="1.6"/><path d="M1272 9l9 7l-9 7z" fill="#e8f1fa"/>
<rect x="1293" y="3" width="26" height="26" fill="#fff" stroke="#1a78c9" stroke-width="2"/>
<path d="M1297 7h7v18h-7z" fill="none" stroke="#1a78c9" stroke-width="2"/><path d="M1303 14h8v4h-8zM1310 10l6 6l-6 6z" fill="#1a78c9"/>
<rect x="512" y="1230" width="2" height="10" fill="#c8cfd8"/>
<rect x="912" y="1230" width="2" height="10" fill="#c8cfd8"/>
<text x="515" y="1254" font-size="24" font-weight="bold" fill="#1f2636" letter-spacing="0.6">2025/11</text>
<text x="915" y="1254" font-size="24" font-weight="bold" fill="#1f2636" letter-spacing="0.6">2025/12</text>
<rect x="40" y="1230" width="140" height="38" fill="#fff"/>
<rect x="178" y="1228" width="2" height="40" fill="#cdd5df"/>
<rect x="40" y="1266" width="1422" height="3.5" fill="#cdd5df"/>
<text x="69" y="1260" font-size="24" font-weight="bold" fill="#ff7a00">日线</text>
<path d="M138 1242 L146 1258 L130 1258 Z" fill="#ff7a00"/>
<rect x="0" y="1298" width="40" height="2" fill="#cdd5df"/>
<rect x="1102" y="1297" width="360" height="2" fill="#cdd5df"/>
<text x="79.0" y="1292" font-size="24" fill="#1f2636" text-anchor="middle" style="font-family:'Liberation Sans',sans-serif">指标</text>
<rect x="118" y="1268" width="2" height="30" fill="#cdd5df"/>
<text x="159.0" y="1292" font-size="24" fill="#1f2636" text-anchor="middle" style="font-family:'Liberation Sans',sans-serif">模板</text>
<rect x="198" y="1268" width="2" height="30" fill="#cdd5df"/>
<rect x="200" y="1268" width="114" height="30" fill="#ff6600"/>
<text x="257.0" y="1292" font-size="22" fill="#fff" text-anchor="middle" style="font-family:'Liberation Mono',monospace">VIP指标</text>
<rect x="314" y="1268" width="2" height="30" fill="#cdd5df"/>
<text x="390.5" y="1292" font-size="20" fill="#1f2636" text-anchor="middle" style="font-family:'Liberation Mono',monospace">BARUPDN_UD</text>
<rect x="467" y="1268" width="2" height="30" fill="#cdd5df"/>
<text x="525.0" y="1292" font-size="20" fill="#1f2636" text-anchor="middle" style="font-family:'Liberation Mono',monospace">BIAS_UD</text>
<rect x="583" y="1268" width="2" height="30" fill="#cdd5df"/>
<text x="640.5" y="1292" font-size="20" fill="#1f2636" text-anchor="middle" style="font-family:'Liberation Mono',monospace">BOLL_UD</text>
<rect x="698" y="1268" width="2" height="30" fill="#cdd5df"/>
<text x="750.5" y="1292" font-size="20" fill="#1f2636" text-anchor="middle" style="font-family:'Liberation Mono',monospace">CCI_UD</text>
<rect x="803" y="1268" width="2" height="30" fill="#cdd5df"/>
<text x="855.0" y="1292" font-size="20" fill="#1f2636" text-anchor="middle" style="font-family:'Liberation Mono',monospace">DMI_UD</text>
<rect x="907" y="1268" width="2" height="30" fill="#cdd5df"/>
<text x="977.0" y="1292" font-size="20" fill="#1f2636" text-anchor="middle" style="font-family:'Liberation Mono',monospace">INSIDE_UD</text>
<rect x="1047" y="1268" width="2" height="30" fill="#cdd5df"/>
<text x="1074.5" y="1292" font-size="20" fill="#1f2636" text-anchor="middle" style="font-family:'Liberation Mono',monospace">&gt;&gt;</text>
<rect x="1102" y="1268" width="2" height="30" fill="#cdd5df"/>
<rect x="1102" y="1268" width="360" height="2" fill="#cdd5df"/>
<text x="1333" y="1275.5" font-size="31" fill="#a88a6e" letter-spacing="2.2" opacity="0.75" transform="translate(1.2,1.2)">FX678</text>
<text x="1333" y="1275.5" font-size="31" fill="#dde9f7" letter-spacing="2.2">FX678</text>
</svg>
</body></html>
